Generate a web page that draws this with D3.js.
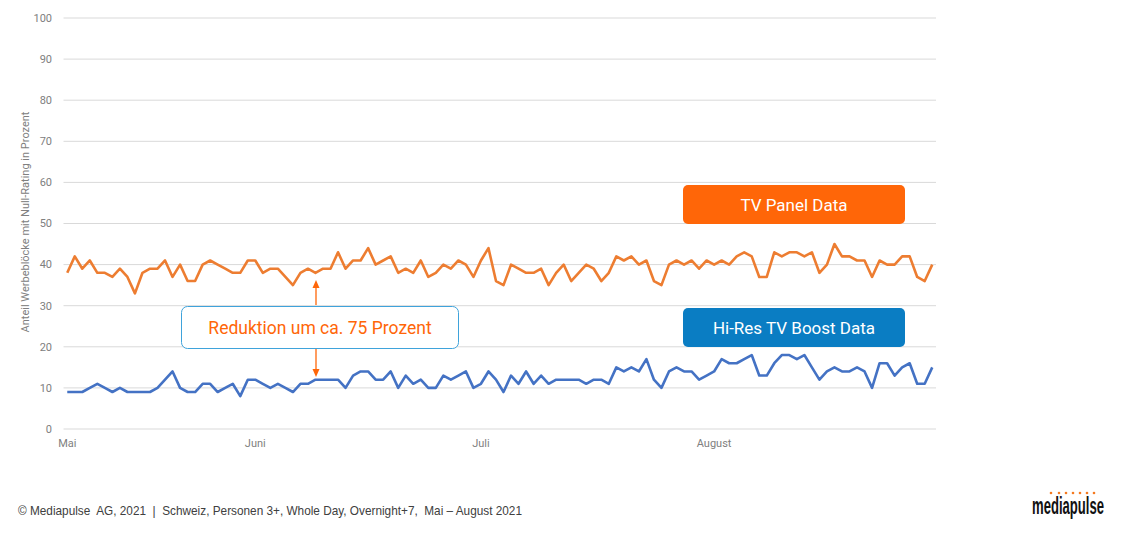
<!DOCTYPE html>
<html>
<head>
<meta charset="utf-8">
<script src="https://cdn.jsdelivr.net/npm/d3@7"></script>
<style>
  html, body { margin: 0; padding: 0; background: #fff; }
  svg { display: block; }
</style>
</head>
<body>
<svg id="chart" width="1125" height="539"></svg>
<script>
// ---- data ----
const panelData = [
  38,42,39,41,38,38,37,39,37,33,38,39,39,41,37,40,36,36,40,41,40,39,38,38,
  41,41,38,39,39,37,35,38,39,38,39,39,43,39,41,41,44,40,41,42,38,39,38,
  41,37,38,40,39,41,40,37,41,44,36,35,40,39,38,38,39,35,38,40,36,38,40,39,
  36,38,42,41,42,40,41,36,35,40,41,40,41,39,41,40,41,40,42,43,42,37,37,
  43,42,43,43,42,43,38,40,45,42,42,41,41,37,41,40,40,42,42,37,36,40
];
const boostData = [
  9,9,9,10,11,10,9,10,9,9,9,9,10,12,14,10,9,9,11,11,9,10,11,8,
  12,12,11,10,11,10,9,11,11,12,12,12,12,10,13,14,14,12,12,14,10,13,11,
  12,10,10,13,12,13,14,10,11,14,12,9,13,11,14,11,13,11,12,12,12,12,11,12,
  12,11,15,14,15,14,17,12,10,14,15,14,14,12,13,14,17,16,16,17,18,13,13,
  16,18,18,17,18,15,12,14,15,14,14,15,14,10,16,16,13,15,16,11,11,15
];
const monthLabels = ["Mai", "Juni", "Juli", "August"];
const monthIndex = [0, 25, 55, 86];
const yTicks = [0,10,20,30,40,50,60,70,80,90,100];
const seriesNames = ["TV Panel Data", "Hi-Res TV Boost Data"];
const annotationText = "Reduktion um ca. 75 Prozent";
const yTitle = "Anteil Werbeblöcke mit Null-Rating in Prozent";
const footerText = "© Mediapulse  AG, 2021  |  Schweiz, Personen 3+, Whole Day, Overnight+7,  Mai – August 2021";
const logoText = "mediapulse";

// ---- chart ----
const svg = d3.select("#chart");
const idx = d3.range(panelData.length);
const x = d3.scalePoint().domain(idx).range([63.5, 936]).padding(0.5);
const y = d3.scaleLinear().domain([0, 100]).range([429, 18]);

const axisFont = "'Roboto', 'Liberation Sans', sans-serif";

// gridlines
svg.append("g").selectAll("line").data(yTicks).join("line")
  .attr("x1", 63.5).attr("x2", 936)
  .attr("y1", d => y(d)).attr("y2", d => y(d))
  .attr("stroke", "#d9d9d9").attr("stroke-width", 1);

// y tick labels
svg.append("g").selectAll("text").data(yTicks).join("text")
  .attr("x", 52).attr("y", d => y(d)).attr("dy", "0.35em")
  .attr("text-anchor", "end")
  .attr("font-family", axisFont).attr("font-size", 11)
  .attr("fill", "#808080")
  .text(d => d);

// x labels
svg.append("g").selectAll("text").data(monthLabels).join("text")
  .attr("x", (d, i) => x(monthIndex[i])).attr("y", 447)
  .attr("text-anchor", "middle")
  .attr("font-family", axisFont).attr("font-size", 11)
  .attr("fill", "#808080")
  .text(d => d);

// y title
svg.append("text")
  .attr("transform", "translate(29,222) rotate(-90)")
  .attr("text-anchor", "middle")
  .attr("font-family", axisFont).attr("font-size", 11)
  .attr("fill", "#808080")
  .text(yTitle);

// lines
const line = d3.line().x((d, i) => x(i)).y(d => y(d)).curve(d3.curveLinear);
svg.append("path").datum(panelData)
  .attr("d", line).attr("fill", "none")
  .attr("stroke", "#ED7D31").attr("stroke-width", 2.6)
  .attr("stroke-linejoin", "round");
svg.append("path").datum(boostData)
  .attr("d", line).attr("fill", "none")
  .attr("stroke", "#4472C4").attr("stroke-width", 2.6)
  .attr("stroke-linejoin", "round");

// series label boxes
const boxFont = "'Roboto', 'Liberation Sans', sans-serif";
const boxes = [
  {name: seriesNames[0], y0: 185, fill: "#FF6608"},
  {name: seriesNames[1], y0: 308, fill: "#0A7DC3"}
];
boxes.forEach(b => {
  svg.append("rect").attr("x", 683).attr("y", b.y0).attr("width", 222).attr("height", 39)
    .attr("rx", 5).attr("fill", b.fill);
  svg.append("text").attr("x", 794).attr("y", b.y0 + 19.5).attr("dy", "0.36em")
    .attr("text-anchor", "middle").attr("font-family", boxFont).attr("font-size", 17)
    .attr("fill", "#fff").text(b.name);
});

// annotation box
svg.append("rect").attr("x", 181.5).attr("y", 306.5).attr("width", 277).attr("height", 42)
  .attr("rx", 6).attr("fill", "#fff").attr("stroke", "#3FA3DB").attr("stroke-width", 1);
svg.append("text").attr("x", 320).attr("y", 327.5).attr("dy", "0.36em")
  .attr("text-anchor", "middle").attr("font-family", boxFont).attr("font-size", 17.5)
  .attr("fill", "#FF6608").text(annotationText);

// arrows
const ax = 316;
const arrowColor = "#FF6608";
svg.append("line").attr("x1", ax).attr("x2", ax).attr("y1", 305).attr("y2", 286)
  .attr("stroke", arrowColor).attr("stroke-width", 1.3);
svg.append("path").attr("d", `M${ax},280 L${ax-3.5},288 L${ax+3.5},288 Z`).attr("fill", arrowColor);
svg.append("line").attr("x1", ax).attr("x2", ax).attr("y1", 349).attr("y2", 371)
  .attr("stroke", arrowColor).attr("stroke-width", 1.3);
svg.append("path").attr("d", `M${ax},377 L${ax-3.5},369 L${ax+3.5},369 Z`).attr("fill", arrowColor);

// footer
svg.append("text").attr("x", 18).attr("y", 515)
  .attr("font-family", "'Liberation Sans', sans-serif").attr("font-size", 13)
  .attr("fill", "#404040")
  .attr("textLength", 504).attr("lengthAdjust", "spacingAndGlyphs")
  .attr("xml:space", "preserve")
  .text(footerText);

// logo (condensed via horizontal scale)
const logo = svg.append("g");
const lt = logo.append("text").attr("x", 0).attr("y", 0)
  .attr("font-family", "'Liberation Sans', sans-serif")
  .attr("font-size", 23).attr("font-weight", "bold")
  .attr("fill", "#111")
  .text(logoText);
const w = lt.node().getComputedTextLength();
lt.attr("transform", `translate(1032,514) scale(${72 / w},1)`);
const dotXs = [1051, 1059, 1066, 1073, 1080, 1087, 1094];
logo.selectAll("circle").data(dotXs).join("circle")
  .attr("cx", d => d).attr("cy", 493).attr("r", 1.3).attr("fill", "#F47A20");
</script>
</body>
</html>
